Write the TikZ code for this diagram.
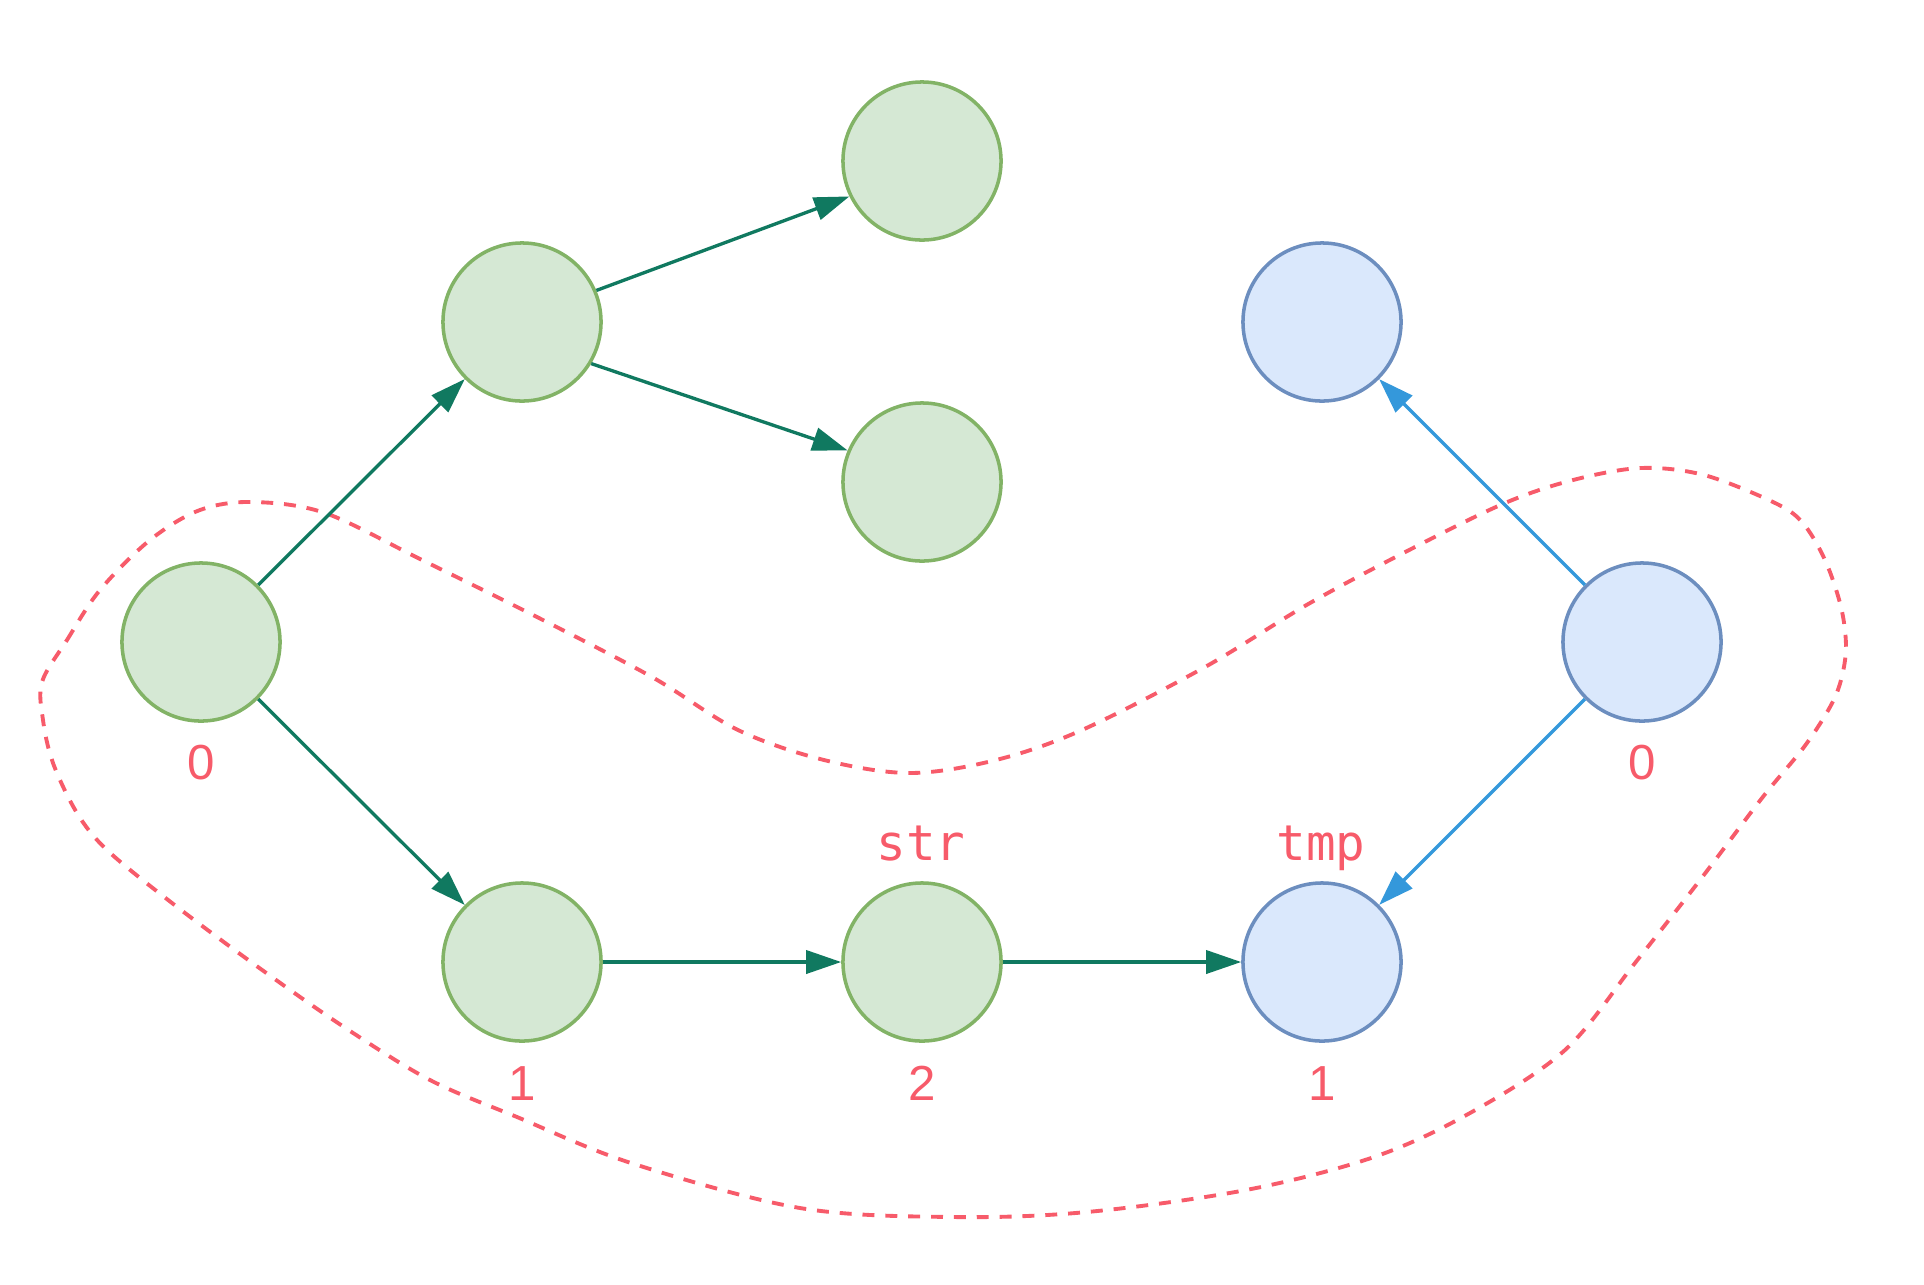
\documentclass[tikz,border=0pt]{standalone}
\usepackage{fontspec}
\setmainfont{Liberation Sans}
\newfontfamily\numfont{Liberation Sans}
\newfontfamily\codefont{DejaVu Sans Mono}
\usetikzlibrary{arrows.meta}
\definecolor{gfill}{HTML}{D5E8D4}
\definecolor{gline}{HTML}{82B366}
\definecolor{bfill}{HTML}{DAE8FC}
\definecolor{bline}{HTML}{6C8EBF}
\definecolor{garrow}{RGB}{16,121,96}
\definecolor{barrow}{RGB}{52,152,219}
\definecolor{mark}{RGB}{247,91,106}
\tikzset{
  vertex/.style={circle, minimum size=1.58cm, inner sep=0pt, line width=1pt},
  gvertex/.style={vertex, draw=gline, fill=gfill},
  bvertex/.style={vertex, draw=bline, fill=bfill},
  gedge/.style={draw=garrow, line width=0.95pt, -{Triangle[length=10pt,width=6.6pt]}},
  bedge/.style={draw=barrow, line width=0.95pt, -{Triangle[length=10pt,width=6.6pt]}},
  count/.style={text=mark, font=\numfont\fontsize{14}{16}\selectfont, anchor=base, inner sep=0pt},
  varname/.style={text=mark, font=\codefont\fontsize{14}{16}\selectfont, anchor=base, inner sep=0pt},
  region/.style={draw=mark, line width=1.1pt, dash pattern=on 3.4pt off 3.1pt}
}
\begin{document}
\begin{tikzpicture}[x=0.01cm, y=-0.01cm]
\useasboundingbox (0,0) rectangle (1924,1284);

% enclosing dashed region
\draw[region] plot[smooth cycle, tension=0.55] coordinates {
  (42,682) (67,640) (100,590) (150,540) (200,510) (253,502) (325,513)
  (422,560) (537,617) (652,677) (738,730) (824,760) (910,773) (996,760)
  (1082,730) (1205,667) (1310,603) (1415,547) (1505,503) (1573,480)
  (1641,468) (1704,475) (1773,502) (1802,522) (1825,560) (1841,607)
  (1846,647) (1841,680) (1830,707) (1804,747) (1762,798) (1700,880)
  (1635,963) (1565,1050) (1470,1113) (1374,1157) (1246,1190) (1087,1212)
  (953,1217) (800,1208) (631,1163) (517,1117) (430,1080) (344,1027)
  (258,967) (172,903) (107,850) (77,813) (53,763) (43,720)};

% green tree
\node[gvertex] (a) at (201,642) {};
\node[gvertex] (b) at (522,322) {};
\node[gvertex] (c) at (922,161) {};
\node[gvertex] (d) at (922,482) {};
\node[gvertex] (e) at (522,962) {};
\node[gvertex] (f) at (922,962) {};

% blue tree
\node[bvertex] (g) at (1322,322) {};
\node[bvertex] (h) at (1642,642) {};
\node[bvertex] (i) at (1322,962) {};

\draw[gedge] (a) -- (b);
\draw[gedge] (a) -- (e);
\draw[gedge] (b.23) -- (c.-154.5);
\draw[gedge] (b.-31) -- (d.157);
\draw[gedge] (e) -- (f);
\draw[gedge] (f) -- (i);
\draw[bedge] (h) -- (g);
\draw[bedge] (h) -- (i);

% counts
\node[count] (na) at (201,779) {0};
\node[count] (ne) at (522,1100) {1};
\node[count] (nf) at (922,1100) {2};
\node[count] (ni) at (1322,1100) {1};
\node[count] (nh) at (1642,779) {0};

% variable names
\node[varname] (vs) at (921,860) {str};
\node[varname] (vt) at (1321,860) {tmp};
\end{tikzpicture}
\end{document}
